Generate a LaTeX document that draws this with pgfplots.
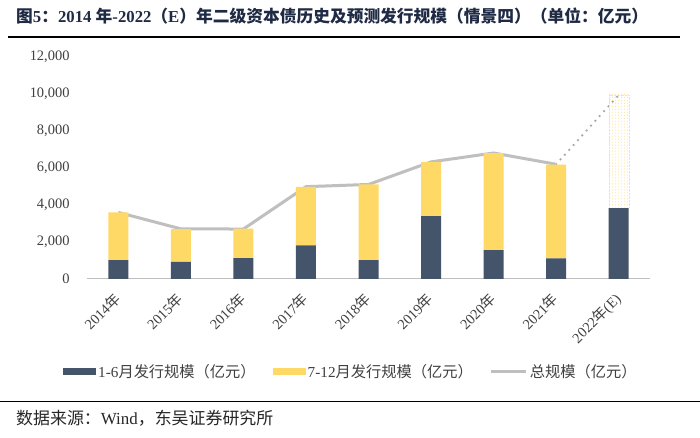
\documentclass[border=0pt]{standalone}
\usepackage{fontspec}
\setmainfont{Liberation Serif}
\newfontfamily\cjk{Noto Sans CJK SC}
\usepackage{pgfplots}
\pgfplotsset{compat=1.18}
\usetikzlibrary{patterns}
\definecolor{navy}{HTML}{44546A}
\definecolor{gold}{HTML}{FFD966}
\definecolor{lgray}{HTML}{BFBFBF}
\definecolor{dgray}{HTML}{A6A6A6}
\definecolor{ttl}{HTML}{1F2A44}
\definecolor{tick}{HTML}{404040}

\pgfplotstableread{
x h1 h2 e
0 1020 2580 0
1 920 1780 0
2 1130 1590 0
3 1820 3160 0
4 1020 4100 0
5 3400 2920 0
6 1560 5240 0
7 1110 5070 0
8 3830 0 6120
}\bars
\pgfplotstableread{
x t
0 3600
1 2710
2 2700
3 4990
4 5110
5 6330
6 6810
7 6200
}\total
\pgfplotstableread{
x t
7 6200
8 9950
}\proj

\begin{document}
\begin{tikzpicture}[x=1bp,y=1bp]
\useasboundingbox (0,0) rectangle (700,438);
\fill[white] (0,0) rectangle (700,438);
\node[anchor=west, font=\fontsize{16.8}{19}\selectfont\bfseries, text=ttl, inner sep=0] at (16,422)
 {{\cjk 图}5{\cjk ：}2014 {\cjk 年}-2022{\cjk （}E{\cjk ）年二级资本债历史及预测发行规模（情景四）（单位：亿元）}};
\draw[line width=1.6bp, black] (8,401) -- (680,401);
\draw[line width=1bp, black] (0,36) -- (700,36);
\node[anchor=west, font=\fontsize{17}{19}\selectfont, text=black!85, inner sep=0] at (16,20)
 {{\cjk 数据来源：}Wind{\cjk ，东吴证券研究所}};

\begin{axis}[
  at={(87bp,159bp)}, anchor=south west,
  scale only axis, width=563bp, height=222bp,
  xmin=-0.5, xmax=8.5, ymin=0, ymax=12000,
  ybar stacked, bar width=20bp,
  axis lines*=left,
  y axis line style={draw=none},
  x axis line style={lgray, line width=1bp},
  major tick length=0,
  ytick={0,2000,...,12000},
  xtick={0,...,8},
  xticklabels={2014{\cjk 年},2015{\cjk 年},2016{\cjk 年},2017{\cjk 年},2018{\cjk 年},2019{\cjk 年},2020{\cjk 年},2021{\cjk 年},2022{\cjk 年}(E)},
  x tick label style={rotate=45, anchor=north east, font=\fontsize{14.5}{16}\selectfont, text=tick, xshift=-11.75bp, yshift=-3.85bp, inner sep=1bp},
  y tick label style={font=\fontsize{14.5}{16}\selectfont, text=tick, xshift=-14bp},
  /pgf/number format/assume math mode=true,
  /pgf/number format/1000 sep={,},
  scaled y ticks=false,
  clip=false,
  legend style={at={(-24bp,-93bp)}, anchor=west, draw=none, fill=none,
    legend columns=3, font=\fontsize{15.3}{17}\selectfont, text=tick,
    /tikz/every even column/.append style={column sep=15bp},
    legend cell align=left, inner sep=0},
  legend image code/.code={\fill[#1] (0bp,-3.5bp) rectangle (33bp,3.5bp);},
]
\addplot[fill=navy, draw=none] table[x=x,y=h1]{\bars};
\addlegendentry{1-6{\cjk 月发行规模（亿元）}}
\addplot[fill=gold, draw=none] table[x=x,y=h2]{\bars};
\addlegendentry{7-12{\cjk 月发行规模（亿元）}}
\addplot[pattern=dots, pattern color=gold, draw=gold!70, densely dotted, forget plot] table[x=x,y=e]{\bars};
\addplot[sharp plot, no markers, lgray, line width=3bp, stack plots=false,
  legend image code/.code={\draw[lgray, line width=3bp] (0bp,0bp) -- (35bp,0bp);}] table[x=x,y=t]{\total};
\addlegendentry{{\cjk 总规模（亿元）}}
\addplot[sharp plot, no markers, dgray, line width=2.5bp, stack plots=false, dash pattern=on 0bp off 6.5bp, line cap=round, forget plot] table[x=x,y=t]{\proj};
\end{axis}
\end{tikzpicture}
\end{document}
